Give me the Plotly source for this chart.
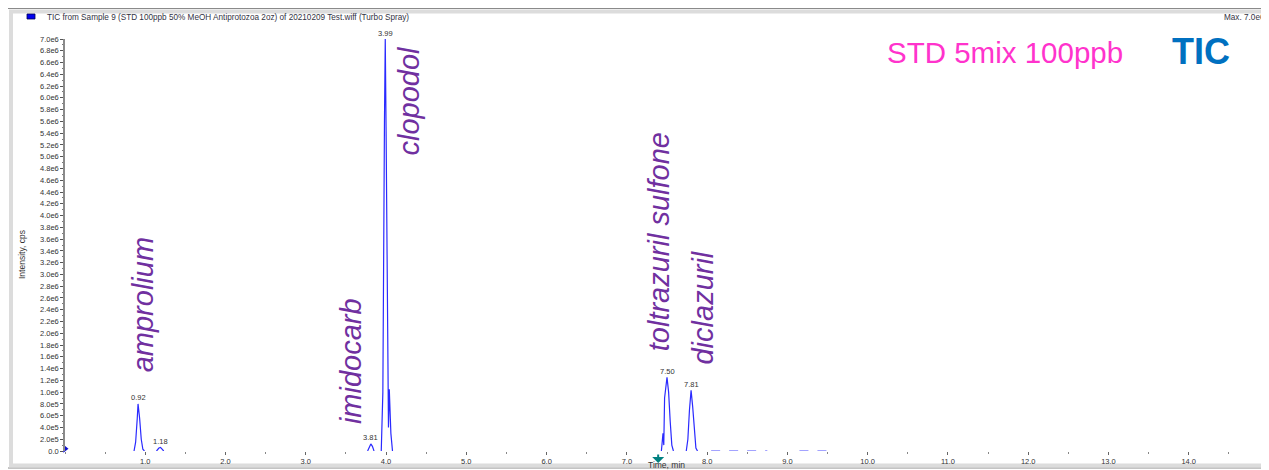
import plotly.graph_objects as go

# ---- data ----
# chromatogram points (time in min, intensity in cps); None separates peaks
tic_time = [0.86, 0.88, 0.90, 0.91, 0.93, 0.95, 0.97, 0.99, None,
            1.14, 1.17, 1.19, 1.21, 1.23, None,
            3.77, 3.80, 3.81, 3.83, 3.85, None,
            3.94, 3.96, 3.98, 3.99, 4.00, 4.02, 4.03, 4.04, 4.06, 4.08, None,
            7.43, 7.45, 7.46, 7.47, 7.50, 7.52, 7.54, 7.56, 7.58, None,
            7.74, 7.76, 7.78, 7.80, 7.82, 7.84, 7.86, 7.88]
tic_int = [0, 0.15e6, 0.55e6, 0.80e6, 0.55e6, 0.20e6, 0.03e6, 0, None,
           0, 0.05e6, 0.06e6, 0.03e6, 0, None,
           0, 0.10e6, 0.12e6, 0.08e6, 0, None,
           0, 1.0e6, 5.6e6, 7.0e6, 5.5e6, 0.8e6, 0.4e6, 1.05e6, 0.3e6, 0, None,
           0, 0.30e6, 0.10e6, 0.90e6, 1.25e6, 1.0e6, 0.5e6, 0.1e6, 0, None,
           0, 0.2e6, 0.7e6, 1.03e6, 0.75e6, 0.3e6, 0.05e6, 0]

noise_time = [8.05, 8.75, None, 9.15, 9.55]
noise_int = [0.005e6, 0.005e6, None, 0.005e6, 0.005e6]

peak_times = [0.91, 1.19, 3.81, 3.99, 7.50, 7.80]
peak_heights = [0.80e6, 0.06e6, 0.12e6, 7.0e6, 1.25e6, 1.03e6]
peak_labels = ["0.92", "1.18", "3.81", "3.99", "7.50", "7.81"]

compound_names = ["amprolium", "imidocarb", "clopodol", "toltrazuril sulfone", "diclazuril"]
compound_x = [0.975, 3.565, 4.29, 7.41, 7.95]
compound_y = [2.48e6, 1.53e6, 5.96e6, 3.56e6, 2.44e6]

x_tick_vals = [1, 2, 3, 4, 5, 6, 7, 8, 9, 10, 11, 12, 13, 14, 15]
x_tick_text = ["1.0", "2.0", "3.0", "4.0", "5.0", "6.0", "7.0", "8.0", "9.0",
               "10.0", "11.0", "12.0", "13.0", "14.0", "15.0"]
y_tick_vals = [i * 2e5 for i in range(36)]


def fmt_e(v):
    if v == 0:
        return "0.0"
    s = "%.1e" % v
    mant, ex = s.split("e")
    return "%se%d" % (mant, int(ex))


y_tick_text = [fmt_e(v) for v in y_tick_vals]

# ---- layout geometry (page body has an 8 px margin) ----
OFF = 8
W, H = 1261, 462
L, R, T, B = 57, 0, 31, 19
PW, PH = W - L - R, H - T - B


def sx(xs):
    return (xs - OFF - L) / PW


def sy(ys):
    return (H - B - (ys - OFF)) / PH


FONT = "Liberation Sans"

fig = go.Figure()
fig.add_trace(go.Scatter(x=tic_time, y=tic_int, mode="lines",
                         line=dict(color="#2a2aff", width=1.2),
                         connectgaps=False, hoverinfo="skip"))
fig.add_trace(go.Scatter(x=noise_time, y=noise_int, mode="lines",
                         line=dict(color="#8c8cff", width=1, dash="dash"),
                         hoverinfo="skip"))
# blue marker on y-axis origin
fig.add_trace(go.Scatter(x=[0], y=[0.04e6], mode="markers",
                         marker=dict(symbol="triangle-right", size=7, color="#1010d0"),
                         cliponaxis=False, hoverinfo="skip"))

ann = []
for t, h, lab in zip(peak_times, peak_heights, peak_labels):
    ann.append(dict(x=t, y=h, text=lab, showarrow=False, yshift=6,
                    xanchor="center", yanchor="middle",
                    font=dict(size=7.5, color="#333", family=FONT)))
for name, cx, cy in zip(compound_names, compound_x, compound_y):
    ann.append(dict(x=cx, y=cy, text="<i>%s</i>" % name, textangle=-90, showarrow=False,
                    xanchor="center", yanchor="middle",
                    font=dict(size=29, color="#7030a0", family=FONT)))

ann += [
    dict(xref="paper", yref="paper", x=sx(1005), y=sy(53), text="STD 5mix 100ppb",
         xanchor="center", yanchor="middle", showarrow=False,
         font=dict(size=29.5, color="#ff33cc", family=FONT)),
    dict(xref="paper", yref="paper", x=sx(1201), y=sy(52), text="<b>TIC</b>",
         xanchor="center", yanchor="middle", showarrow=False,
         font=dict(size=36, color="#0070c0", family=FONT)),
    dict(xref="paper", yref="paper", x=sx(45), y=sy(17), xanchor="left", yanchor="middle",
         text="TIC from Sample 9 (STD 100ppb 50% MeOH Antiprotozoa 2oz) of 20210209 Test.wiff (Turbo Spray)",
         showarrow=False, font=dict(size=8.2, color="#334", family=FONT)),
    dict(xref="paper", yref="paper", x=sx(1222), y=sy(17), xanchor="left", yanchor="middle",
         text="Max. 7.0e6 cps.", showarrow=False,
         font=dict(size=8.2, color="#334", family=FONT)),
    dict(xref="paper", yref="paper", x=sx(22), y=sy(255), text="Intensity, cps",
         xanchor="center", yanchor="middle", textangle=-90, showarrow=False,
         font=dict(size=8.5, color="#333", family=FONT)),
    dict(xref="paper", yref="paper", x=sx(666), y=sy(465), text="Time, min",
         xanchor="center", yanchor="middle",
         showarrow=False, font=dict(size=8.5, color="#333", family=FONT)),
    dict(xref="x", yref="paper", x=7.39, y=sy(463), ax=0, ay=-10, text="",
         showarrow=True, arrowhead=1, arrowsize=1, arrowwidth=2, arrowcolor="#008080"),
]

shapes = [
    # outer frame
    dict(type="rect", xref="paper", yref="paper", x0=sx(7.5), x1=sx(1270), y0=sy(468), y1=sy(8.5),
         line=dict(color="#8a8a8a", width=1), layer="below"),
    # inner light frame
    dict(type="rect", xref="paper", yref="paper", x0=sx(11), x1=sx(1273), y0=sy(465.5), y1=sy(11.5),
         line=dict(color="#dcdcdc", width=4), layer="below"),
    # legend swatch
    dict(type="rect", xref="paper", yref="paper", x0=sx(27), x1=sx(35), y0=sy(19), y1=sy(14),
         fillcolor="#0000ee", line=dict(color="#000050", width=0.8)),
]

fig.update_layout(
    width=W, height=H,
    margin=dict(l=L, r=R, t=T, b=B),
    paper_bgcolor="white", plot_bgcolor="white",
    showlegend=False,
    annotations=ann, shapes=shapes,
    xaxis=dict(range=[0, 15], showgrid=False, zeroline=False, showline=False,
               tickmode="array", tickvals=x_tick_vals, ticktext=x_tick_text,
               ticks="outside", ticklen=3, tickcolor="#666",
               minor=dict(dtick=0.5, ticks="outside", ticklen=2, tickcolor="#888"),
               tickfont=dict(size=7.5, color="#333", family=FONT)),
    yaxis=dict(range=[0, 7.0e6], showgrid=False, zeroline=False, showline=True,
               linecolor="#8a8a8a", linewidth=1.5,
               tickmode="array", tickvals=y_tick_vals, ticktext=y_tick_text,
               ticks="outside", ticklen=3, tickcolor="#555",
               minor=dict(dtick=1e5, ticks="outside", ticklen=1.5, tickcolor="#777"),
               tickfont=dict(size=7.5, color="#333", family=FONT)),
)

fig.write_html("out.html")
